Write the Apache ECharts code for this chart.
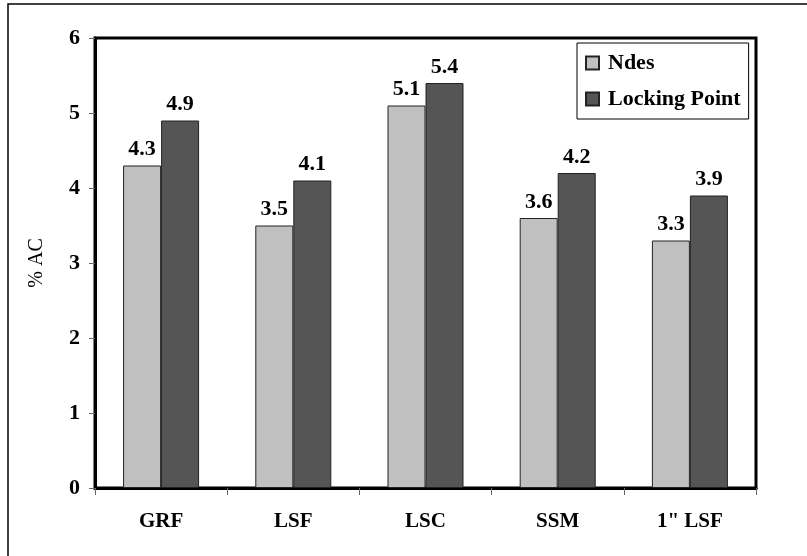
<!DOCTYPE html>
<html>
<head>
<meta charset="utf-8">
<script src="https://cdn.jsdelivr.net/npm/echarts@6/dist/echarts.min.js"></script>
<style>html,body{margin:0;padding:0;background:#fff}#c{width:807px;height:556px}</style>
</head>
<body>
<div id="c"></div>
<script>
const categories = ['GRF', 'LSF', 'LSC', 'SSM', '1" LSF'];
const ndes = [4.3, 3.5, 5.1, 3.6, 3.3];
const locking = [4.9, 4.1, 5.4, 4.2, 3.9];
const seriesNames = ['Ndes', 'Locking Point'];
const yTicks = [0, 1, 2, 3, 4, 5, 6];

const FONT = '"Liberation Serif", "Times New Roman", serif';
const chart = echarts.init(document.getElementById('c'), null, {renderer: 'canvas'});
const labelStyle = {show: true, position: 'top', distance: 5, fontFamily: FONT, fontWeight: 'bold', fontSize: 22, color: '#000', formatter: p => p.value.toFixed(1)};
chart.setOption({
  animation: false,
  backgroundColor: '#fff',
  graphic: [{type: 'rect', shape: {x: 8, y: 4, width: 830, height: 600}, style: {fill: 'none', stroke: '#000', lineWidth: 1.5}, z: 0}],
  grid: {left: 95, right: 51, top: 38, bottom: 68, show: true, borderColor: '#000', borderWidth: 3, backgroundColor: 'transparent'},
  legend: {
    data: seriesNames, orient: 'vertical', left: 577, top: 43,
    icon: 'rect', itemWidth: 13, itemHeight: 13, itemGap: 14,
    backgroundColor: '#fff', borderColor: '#000', borderWidth: 1,
    padding: [9, 8, 9, 8],
    textStyle: {fontFamily: FONT, fontWeight: 'bold', fontSize: 22, color: '#000', padding: [0, 0, 0, 4]}
  },
  xAxis: {
    type: 'category', data: categories,
    axisLine: {lineStyle: {color: '#000', width: 3}},
    axisTick: {show: true, length: 7, lineStyle: {color: '#666', width: 1}},
    axisLabel: {margin: 23, fontFamily: FONT, fontWeight: 'bold', fontSize: 21, color: '#000'}
  },
  yAxis: {
    type: 'value', min: yTicks[0], max: yTicks[yTicks.length - 1], interval: 1,
    name: '% AC', nameLocation: 'middle', nameGap: 48,
    nameTextStyle: {fontFamily: FONT, fontSize: 20, color: '#000'},
    axisLine: {show: true, lineStyle: {color: '#000', width: 3}},
    axisTick: {show: true, length: 6, lineStyle: {color: '#666', width: 1}},
    splitLine: {show: false},
    axisLabel: {margin: 15, fontFamily: FONT, fontWeight: 'bold', fontSize: 22, color: '#000'}
  },
  series: [
    {name: seriesNames[0], type: 'bar', data: ndes, barWidth: 38, barGap: '0%',
     itemStyle: {color: '#c0c0c0', borderColor: '#222', borderWidth: 1}, label: labelStyle},
    {name: seriesNames[1], type: 'bar', data: locking, barWidth: 38, barGap: '0%',
     itemStyle: {color: '#555555', borderColor: '#222', borderWidth: 1}, label: labelStyle}
  ]
});
</script>
</body>
</html>
